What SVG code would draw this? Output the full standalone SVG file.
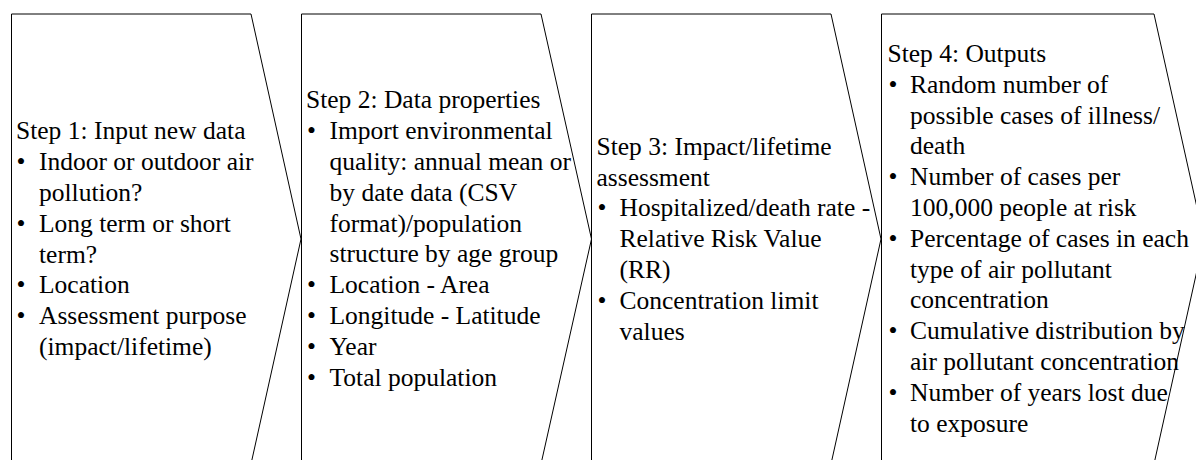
<svg xmlns="http://www.w3.org/2000/svg" width="1196" height="460" viewBox="0 0 1196 460">
  <style>
    .shape { fill: #ffffff; stroke: #000000; stroke-width: 1; }
    .t { font-family: "Liberation Serif", "Times New Roman", serif; font-size: 25.5px; fill: #000000; }
  </style>

  <!-- Step 1: input -->
  <g id="step1">
    <path class="shape" d="M11.5,14 L251,14 L301,239 L251,464 L11.5,464 Z"/>
    <text class="t">
      <tspan x="16" y="139.3">Step 1: Input new data</tspan>
      <tspan x="16.5" y="170.1">•</tspan><tspan x="39" y="170.1">Indoor or outdoor air</tspan>
      <tspan x="39" y="200.9">pollution?</tspan>
      <tspan x="16.5" y="231.7">•</tspan><tspan x="39" y="231.7">Long term or short</tspan>
      <tspan x="39" y="262.5">term?</tspan>
      <tspan x="16.5" y="293.3">•</tspan><tspan x="39" y="293.3">Location</tspan>
      <tspan x="16.5" y="324.1">•</tspan><tspan x="39" y="324.1">Assessment purpose</tspan>
      <tspan x="39" y="354.9">(impact/lifetime)</tspan>
    </text>
  </g>

  <!-- Step 2: data properties -->
  <g id="step2">
    <path class="shape" d="M301.5,14 L541,14 L591.5,239 L541,464 L301.5,464 Z"/>
    <text class="t">
      <tspan x="306" y="108.3">Step 2: Data properties</tspan>
      <tspan x="307" y="139.1">•</tspan><tspan x="329.5" y="139.1">Import environmental</tspan>
      <tspan x="329.5" y="169.9">quality: annual mean or</tspan>
      <tspan x="329.5" y="200.7">by date data (CSV</tspan>
      <tspan x="329.5" y="231.5">format)/population</tspan>
      <tspan x="329.5" y="262.3">structure by age group</tspan>
      <tspan x="307" y="293.1">•</tspan><tspan x="329.5" y="293.1">Location - Area</tspan>
      <tspan x="307" y="323.9">•</tspan><tspan x="329.5" y="323.9">Longitude - Latitude</tspan>
      <tspan x="307" y="354.7">•</tspan><tspan x="329.5" y="354.7">Year</tspan>
      <tspan x="307" y="385.5">•</tspan><tspan x="329.5" y="385.5">Total population</tspan>
    </text>
  </g>

  <!-- Step 3: assessment -->
  <g id="step3">
    <path class="shape" d="M591.5,14 L831,14 L881,239 L831,464 L591.5,464 Z"/>
    <text class="t">
      <tspan x="596.5" y="154.7">Step 3: Impact/lifetime</tspan>
      <tspan x="596.5" y="185.5">assessment</tspan>
      <tspan x="597.5" y="216.3">•</tspan><tspan x="619.5" y="216.3">Hospitalized/death rate -</tspan>
      <tspan x="619.5" y="247.1">Relative Risk Value</tspan>
      <tspan x="619.5" y="277.9">(RR)</tspan>
      <tspan x="597.5" y="308.7">•</tspan><tspan x="619.5" y="308.7">Concentration limit</tspan>
      <tspan x="619.5" y="339.5">values</tspan>
    </text>
  </g>

  <!-- Step 4: outputs -->
  <g id="step4">
    <path class="shape" d="M881.5,14 L1154,14 L1204,239 L1154,464 L881.5,464 Z"/>
    <text class="t">
      <tspan x="887.5" y="61.9">Step 4: Outputs</tspan>
      <tspan x="888.5" y="92.7">•</tspan><tspan x="910" y="92.7">Random number of</tspan>
      <tspan x="910" y="123.5">possible cases of illness/</tspan>
      <tspan x="910" y="154.3">death</tspan>
      <tspan x="888.5" y="185.1">•</tspan><tspan x="910" y="185.1">Number of cases per</tspan>
      <tspan x="910" y="215.9">100,000 people at risk</tspan>
      <tspan x="888.5" y="246.7">•</tspan><tspan x="910" y="246.7">Percentage of cases in each</tspan>
      <tspan x="910" y="277.5">type of air pollutant</tspan>
      <tspan x="910" y="308.3">concentration</tspan>
      <tspan x="888.5" y="339.1">•</tspan><tspan x="910" y="339.1">Cumulative distribution by</tspan>
      <tspan x="910" y="369.9">air pollutant concentration</tspan>
      <tspan x="888.5" y="400.7">•</tspan><tspan x="910" y="400.7">Number of years lost due</tspan>
      <tspan x="910" y="431.5">to exposure</tspan>
    </text>
  </g>
</svg>
